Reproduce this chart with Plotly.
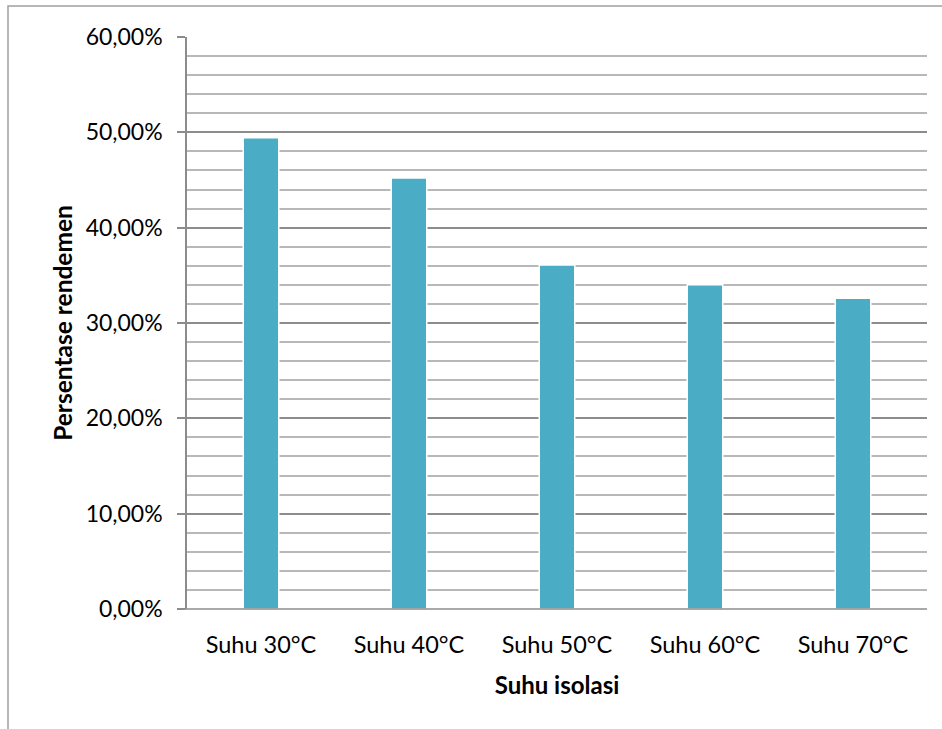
import plotly.graph_objects as go

categories = ["Suhu 30°C", "Suhu 40°C", "Suhu 50°C", "Suhu 60°C", "Suhu 70°C"]
values = [0.4944, 0.4520, 0.3608, 0.3402, 0.3259]

W, H = 942, 729
L, R, T, B = 187, 15, 37, 120
pw, ph = W - L - R, H - T - B

fig = go.Figure(go.Bar(
    x=categories, y=values,
    marker=dict(color="#4BACC6", line=dict(color="#FFFFFF", width=1.5)),
    width=0.24,
))

font = "Lato, Open Sans, sans-serif"
fig.update_layout(
    width=W, height=H,
    margin=dict(l=L, r=R, t=T, b=B, autoexpand=False),
    paper_bgcolor="white", plot_bgcolor="white",
    separators=",.",
    showlegend=False,
    font=dict(family=font, size=23, color="#000000"),
    xaxis=dict(
        showgrid=False, ticks="", showline=False,
        tickfont=dict(size=23.5),
        ticklabelstandoff=19,
        title=dict(text="<b>Suhu isolasi</b>", font=dict(size=24), standoff=20),
    ),
    yaxis=dict(
        range=[0, 0.6], dtick=0.1, tickformat=".2%",
        showgrid=True, gridcolor="#8C8C8C", gridwidth=1.5,
        minor=dict(dtick=0.02, showgrid=True, gridcolor="#B8B8B8", gridwidth=1.5),
        showline=True, linecolor="#8C8C8C", linewidth=1.5,
        ticks="outside", ticklen=8, tickcolor="#8C8C8C", tickwidth=1.5,
        tickfont=dict(size=23),
        ticklabelstandoff=10,
        zeroline=False,
        title=dict(text="<b>Persentase rendemen</b>", font=dict(size=24.5), standoff=6),
    ),
    shapes=[
        dict(type="line", xref="paper", yref="paper",
             x0=(179 - L) / pw, x1=1, y0=0, y1=0,
             line=dict(color="#8C8C8C", width=1.5)),
        dict(type="rect", xref="paper", yref="paper",
             x0=(8 - L) / pw, x1=(960 - L) / pw,
             y0=(T + ph - 780) / ph, y1=(T + ph - 6) / ph,
             line=dict(color="#A0A0A0", width=1.5), fillcolor="rgba(0,0,0,0)", layer="below"),
    ],
)

fig.write_html("out.html")
